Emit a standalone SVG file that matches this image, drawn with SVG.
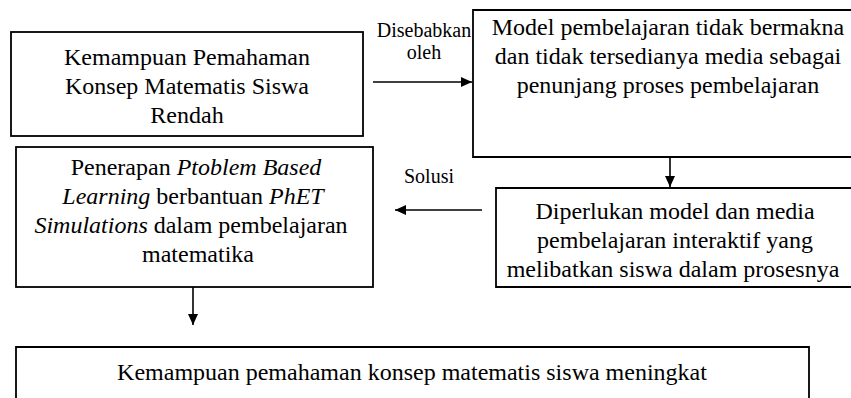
<svg xmlns="http://www.w3.org/2000/svg" width="851" height="398" viewBox="0 0 851 398">
<style>
.box{fill:none;stroke:#000;stroke-width:1.8}
.t{font-family:'Liberation Serif','Times New Roman',serif;font-size:24px;fill:#000;text-anchor:middle}
.l{font-family:'Liberation Serif','Times New Roman',serif;font-size:20px;fill:#000;text-anchor:middle}
.i{font-style:italic}
.c{stroke:#000;stroke-width:1.6;fill:none;marker-end:url(#ah)}
</style>
<defs>
<marker id="ah" markerUnits="userSpaceOnUse" markerWidth="12" markerHeight="10" refX="11" refY="5" orient="auto">
<path d="M0,0 L11,5 L0,10 Z" fill="#000"/>
</marker>
</defs>
<rect width="851" height="398" fill="#fff"/>
<g id="n1">
<rect class="box" x="11" y="32" width="352" height="104"/>
<text class="t" x="187" y="65">Kemampuan Pemahaman</text>
<text class="t" x="187" y="94">Konsep Matematis Siswa</text>
<text class="t" x="187" y="123">Rendah</text>
</g>
<g id="n2">
<path class="box" d="M851,10 H473 V157 H851"/>
<text class="t" x="668" y="35">Model pembelajaran tidak bermakna</text>
<text class="t" x="668" y="64">dan tidak tersedianya media sebagai</text>
<text class="t" x="668" y="93">penunjang proses pembelajaran</text>
</g>
<g id="n3">
<path class="box" d="M851,188 H496 V287 H851"/>
<text class="t" x="675" y="219">Diperlukan model dan media</text>
<text class="t" x="675" y="248">pembelajaran interaktif yang</text>
<text class="t" x="673" y="277">melibatkan siswa dalam prosesnya</text>
</g>
<g id="n4">
<rect class="box" x="16" y="147" width="357" height="140"/>
<text class="t" x="196" y="175">Penerapan <tspan class="i">Ptoblem Based</tspan></text>
<text class="t" x="193" y="204"><tspan class="i">Learning</tspan> berbantuan <tspan class="i">PhET</tspan></text>
<text class="t" x="191" y="233"><tspan class="i">Simulations</tspan> dalam pembelajaran</text>
<text class="t" x="198" y="262">matematika</text>
</g>
<g id="n5">
<path class="box" d="M16,398 V347 H809 V398"/>
<text class="t" x="412" y="380">Kemampuan pemahaman konsep matematis siswa meningkat</text>
</g>
<g id="connectors">
<line class="c" x1="373" y1="82" x2="472" y2="82"/>
<line class="c" x1="670" y1="157" x2="670" y2="187"/>
<line class="c" x1="482" y1="210" x2="395" y2="210"/>
<line class="c" x1="193" y1="287" x2="193" y2="325"/>
<text class="l" x="424" y="37">Disebabkan</text>
<text class="l" x="424" y="59">oleh</text>
<text class="l" x="429" y="183">Solusi</text>
</g>
</svg>
